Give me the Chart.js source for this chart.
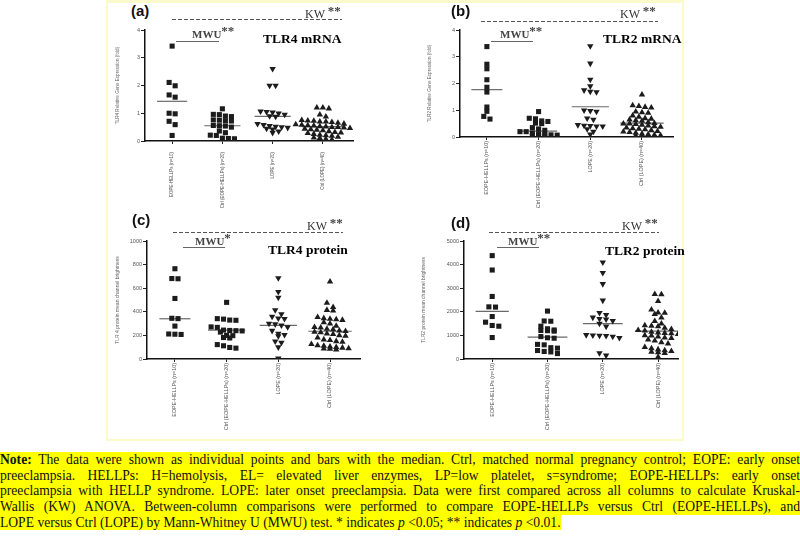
<!DOCTYPE html>
<html>
<head>
<meta charset="utf-8">
<script src="https://cdn.jsdelivr.net/npm/chart.js@4"></script>
<style>
  body { margin: 0; width: 800px; height: 537px; background: #fff; position: relative; overflow: hidden; }
  canvas { position: absolute; }
  .frame { position: absolute; left: 106px; top: 0; width: 574px; height: 436px; border: 2px solid #fafacb; border-top-width: 3px; }
  .lbl { position: absolute; font-family: "Liberation Sans", Arial, sans-serif; font-weight: bold; font-size: 15px; line-height: 1; color: #111; }
  .kw, .mwu { position: absolute; font-family: "Liberation Serif", serif; line-height: 1; color: #333; white-space: nowrap; }
  .kw { font-size: 12px; }
  .mwu { font-size: 11px; font-weight: bold; color: #444; }
  .kw span, .mwu span { font-size: 13px; position: relative; top: -3px; color: #444; font-weight: bold; }
  .ttl { position: absolute; font-family: "Liberation Serif", serif; font-weight: bold; font-size: 13.5px; line-height: 1; color: #000; white-space: nowrap; }
  .dash { position: absolute; height: 1px; background: repeating-linear-gradient(90deg, #555 0 4px, transparent 4px 6px); }
  .bar { position: absolute; height: 1px; background: #666; }
  .note { position: absolute; left: 0; top: 452px; width: 800px; font-family: "Liberation Serif", serif; font-size: 13.6px; line-height: 15.7px; color: #111; }
  .note div.j { background: #ffff00; text-align: justify; text-align-last: justify; }
  .note span.h { background: #ffff00; }
</style>
</head>
<body>
<div class="frame"></div>

<canvas id="chartA" width="262" height="200" style="left:100px;top:20px"></canvas>
<canvas id="chartB" width="265" height="200" style="left:415px;top:20px"></canvas>
<canvas id="chartC" width="265" height="200" style="left:100px;top:231px"></canvas>
<canvas id="chartD" width="270" height="200" style="left:415px;top:231px"></canvas>

<!-- panel annotations -->
<div class="lbl" style="left:131px;top:3px">(a)</div>
<div class="kw" style="left:305px;top:7px">KW <span>**</span></div>
<div class="dash" style="left:172px;top:19px;width:170px"></div>
<div class="mwu" style="left:192px;top:27px">MWU<span>**</span></div>
<div class="bar" style="left:176px;top:41px;width:43px"></div>
<div class="ttl" style="left:263px;top:32px">TLR4 mRNA</div>

<div class="lbl" style="left:451px;top:3px">(b)</div>
<div class="kw" style="left:620px;top:7px">KW <span>**</span></div>
<div class="dash" style="left:481px;top:21px;width:177px"></div>
<div class="mwu" style="left:500px;top:27px">MWU<span>**</span></div>
<div class="bar" style="left:491px;top:41px;width:42px"></div>
<div class="ttl" style="left:603px;top:32px">TLR2 mRNA</div>

<div class="lbl" style="left:132px;top:212px">(c)</div>
<div class="kw" style="left:307px;top:219px">KW <span>**</span></div>
<div class="dash" style="left:173px;top:232px;width:170px"></div>
<div class="mwu" style="left:195px;top:234px">MWU<span>*</span></div>
<div class="bar" style="left:183px;top:247px;width:42px"></div>
<div class="ttl" style="left:268px;top:243px">TLR4 protein</div>

<div class="lbl" style="left:451px;top:215px">(d)</div>
<div class="kw" style="left:622px;top:219px">KW <span>**</span></div>
<div class="dash" style="left:489px;top:232px;width:170px"></div>
<div class="mwu" style="left:508px;top:234px">MWU<span>**</span></div>
<div class="bar" style="left:497px;top:247px;width:42px"></div>
<div class="ttl" style="left:605px;top:244px">TLR2 protein</div>

<div class="note">
  <div class="j"><b>Note:</b> The data were shown as individual points and bars with the median. Ctrl, matched normal pregnancy control; EOPE: early onset</div>
  <div class="j">preeclampsia. HELLPs: H=hemolysis, EL= elevated liver enzymes, LP=low platelet, s=syndrome; EOPE-HELLPs: early onset</div>
  <div class="j">preeclampsia with HELLP syndrome. LOPE: later onset preeclampsia. Data were first compared across all columns to calculate Kruskal-</div>
  <div class="j">Wallis (KW) ANOVA. Between-column comparisons were performed to compare EOPE-HELLPs versus Ctrl (EOPE-HELLPs), and</div>
  <div><span class="h">LOPE versus Ctrl (LOPE) by Mann-Whitney U (MWU) test. * indicates <i>p</i> &lt;0.05; ** indicates <i>p</i> &lt;0.01.</span></div>
</div>

<script>
// Column labels
const categories = ['EOPE-HELLPs (n=10)', 'Ctrl (EOPE-HELLPs) (n=20)', 'LOPE (n=20)', 'Ctrl (LOPE) (n=40)'];

// (a) TLR4 mRNA, fold
const tlr4mEope = [3.42, 2.11, 1.99, 1.66, 1.58, 1.0, 0.98, 0.71, 0.59, 0.2];
const tlr4mCtrlEope = [1.16, 0.96, 0.95, 0.9, 0.88, 0.76, 0.75, 0.73, 0.72, 0.56, 0.55, 0.54, 0.5, 0.36, 0.3, 0.21, 0.2, 0.1, 0.09, 0.08];
const tlr4mLope = [2.6, 2.0, 2.0, 1.07, 1.05, 1.03, 1.0, 0.95, 0.9, 0.88, 0.62, 0.58, 0.55, 0.52, 0.5, 0.48, 0.45, 0.42, 0.35, 0.3];
const tlr4mCtrlLope = [1.2, 1.2, 1.17, 0.95, 0.88, 0.75, 0.73, 0.72, 0.7, 0.7, 0.68, 0.65, 0.62, 0.6, 0.58, 0.56, 0.55, 0.53, 0.52, 0.5,
                       0.5, 0.48, 0.46, 0.44, 0.42, 0.4, 0.38, 0.35, 0.32, 0.3, 0.28, 0.25, 0.22, 0.2, 0.18, 0.15, 0.12, 0.1, 0.07, 0.05];
const tlr4mMedians = [1.43, 0.55, 0.89, 0.52];

// (b) TLR2 mRNA, fold
const tlr2mEope = [3.38, 2.72, 2.55, 2.14, 1.86, 1.68, 1.12, 0.96, 0.77, 0.67];
const tlr2mCtrlEope = [0.95, 0.7, 0.68, 0.6, 0.58, 0.52, 0.5, 0.35, 0.3, 0.25, 0.2, 0.2, 0.15, 0.12, 0.1, 0.08, 0.07, 0.05, 0.05, 0.04];
const tlr2mLope = [3.4, 2.75, 2.15, 1.9, 1.75, 1.7, 1.68, 1.0, 0.98, 0.95, 0.7, 0.65, 0.45, 0.43, 0.42, 0.4, 0.4, 0.3, 0.2, 0.1];
const tlr2mCtrlLope = [1.58, 1.18, 1.15, 1.12, 1.1, 0.95, 0.92, 0.9, 0.8, 0.75, 0.7, 0.68, 0.65, 0.62, 0.6, 0.55, 0.52, 0.5, 0.5, 0.48,
                       0.45, 0.42, 0.4, 0.38, 0.35, 0.32, 0.3, 0.28, 0.25, 0.22, 0.2, 0.18, 0.15, 0.12, 0.1, 0.08, 0.06, 0.05, 0.03, 0.02];
const tlr2mMedians = [1.77, 0.22, 1.13, 0.52];

// (c) TLR4 protein, mean channel brightness
const tlr4pEope = [765, 682, 680, 513, 345, 342, 279, 212, 210, 208];
const tlr4pCtrlEope = [480, 342, 338, 330, 328, 272, 268, 245, 242, 240, 238, 228, 200, 198, 182, 178, 122, 112, 98, 92];
const tlr4pLope = [685, 570, 520, 415, 380, 360, 345, 340, 300, 295, 285, 270, 240, 215, 205, 195, 150, 140, 100, 5];
const tlr4pCtrlLope = [655, 475, 440, 415, 410, 355, 345, 340, 335, 330, 310, 300, 280, 270, 265, 255, 250, 240, 235, 230,
                       225, 215, 210, 200, 195, 180, 165, 160, 150, 145, 125, 115, 110, 105, 100, 95, 90, 88, 85, 80];
const tlr4pMedians = [341, 245, 285, 235];

// (d) TLR2 protein, mean channel brightness
const tlr2pEope = [4380, 3770, 2650, 2210, 2200, 1800, 1560, 1420, 1390, 910];
const tlr2pCtrlEope = [2030, 1610, 1600, 1390, 1280, 1230, 1210, 1200, 1180, 950, 900, 880, 620, 600, 480, 460, 360, 320, 300, 230];
const tlr2pLope = [4100, 3650, 3180, 2480, 1960, 1870, 1760, 1700, 1680, 1620, 1500, 1380, 1020, 1000, 990, 980, 950, 900, 250, 150];
const tlr2pCtrlLope = [2750, 2740, 2450, 2090, 1960, 1950, 1900, 1750, 1600, 1500, 1420, 1400, 1380, 1320, 1260, 1220, 1200, 1150, 1120, 1100,
                       1080, 1050, 1000, 990, 950, 900, 880, 820, 780, 700, 650, 500, 450, 400, 360, 330, 300, 280, 250, 90];
const tlr2pMedians = [2020, 930, 1500, 1180];

const markers = ['rect', 'rect', 'triangle', 'triangle'];
const markerRot = [0, 0, 180, 0];
const medianHalf = [0.3, 0.36, 0.36, 0.42];

// spread points with similar values sideways (column scatter like Prism)
function spread(values, center, tol, step) {
    const sorted = [...values].sort((a, b) => b - a);
    const pts = [];
    let row = [];
    const flush = () => {
        row.forEach((v, i) => pts.push({ x: center + (i - (row.length - 1) / 2) * step, y: v }));
        row = [];
    };
    sorted.forEach(v => {
        if (row.length && row[0] - v > tol) flush();
        row.push(v);
    });
    flush();
    return pts;
}

function makePanel(id, cols, medians, yMax, yStep, yTitle, g) {
    const datasets = [];
    cols.forEach((vals, i) => {
        datasets.push({
            type: 'scatter',
            data: spread(vals, i + 1, yMax * 0.035, 0.12),
            pointStyle: markers[i],
            rotation: markerRot[i],
            pointRadius: markers[i] === 'rect' ? 3.6 : 3.7,
            backgroundColor: '#1c1c1c',
            borderColor: '#1c1c1c',
            borderWidth: 0
        });
    });
    medians.forEach((m, i) => {
        datasets.push({
            type: 'line',
            data: [{ x: i + 1 - medianHalf[i], y: m }, { x: i + 1 + medianHalf[i], y: m }],
            borderColor: '#6a6a6a',
            borderWidth: 1.2,
            pointRadius: 0
        });
    });

    const ctx = document.getElementById(id).getContext('2d');
    new Chart(ctx, {
        type: 'scatter',
        data: { datasets },
        options: {
            responsive: false,
            animation: false,
            layout: { padding: { left: 0, right: g.padR, top: 10, bottom: 0 } },
            plugins: { legend: { display: false }, tooltip: { enabled: false } },
            scales: {
                x: {
                    type: 'linear',
                    min: g.xMin,
                    max: g.xMax,
                    afterBuildTicks: s => { s.ticks = [1, 2, 3, 4].map(v => ({ value: v })); },
                    afterFit: s => { s.height = g.xH; },
                    grid: { drawOnChartArea: false, tickLength: 3, color: '#222', lineWidth: 1 },
                    border: { color: '#111', width: 1.5 },
                    ticks: {
                        autoSkip: false,
                        minRotation: 90,
                        maxRotation: 90,
                        padding: g.xPad,
                        color: '#555',
                        font: { family: '"Liberation Sans", Arial, sans-serif', size: g.xFont },
                        callback: v => categories[v - 1]
                    }
                },
                y: {
                    min: 0,
                    max: yMax,
                    afterFit: s => { s.width = g.yW; },
                    grid: { drawOnChartArea: false, tickLength: 4, color: '#222', lineWidth: 1 },
                    border: { color: '#111', width: 1.5 },
                    ticks: {
                        stepSize: yStep,
                        padding: 1,
                        color: '#555',
                        font: { family: '"Liberation Sans", Arial, sans-serif', size: 5.5 },
                        callback: v => String(v)
                    },
                    title: {
                        display: true,
                        text: yTitle,
                        color: '#666',
                        padding: { top: g.tPad, bottom: 0 },
                        font: { family: '"Liberation Sans", Arial, sans-serif', size: g.tFont }
                    }
                }
            }
        }
    });
}

makePanel('chartA', [tlr4mEope, tlr4mCtrlEope, tlr4mLope, tlr4mCtrlLope], tlr4mMedians, 4, 1,
    'TLR4 Relative Gene Expression (fold)',
    { padR: 9, xH: 79, yW: 45, xMin: 0.46, xMax: 4.6, xPad: 8, xFont: 4.5, tPad: 15, tFont: 4.6 });

makePanel('chartB', [tlr2mEope, tlr2mCtrlEope, tlr2mLope, tlr2mCtrlLope], tlr2mMedians, 4, 1,
    'TLR2 Relative Gene Expression (fold)',
    { padR: 7, xH: 83, yW: 45, xMin: 0.48, xMax: 4.6, xPad: 1, xFont: 5.4, tPad: 12, tFont: 4.6 });

makePanel('chartC', [tlr4pEope, tlr4pCtrlEope, tlr4pLope, tlr4pCtrlLope], tlr4pMedians, 1000, 200,
    'TLR 4 protein mean channel brightness',
    { padR: 5, xH: 72, yW: 47, xMin: 0.46, xMax: 4.58, xPad: 1, xFont: 5.4, tPad: 15, tFont: 5 });

makePanel('chartD', [tlr2pEope, tlr2pCtrlEope, tlr2pLope, tlr2pCtrlLope], tlr2pMedians, 5000, 1000,
    'TLR2 protein mean channel brightness',
    { padR: 7, xH: 72, yW: 49, xMin: 0.49, xMax: 4.36, xPad: 1, xFont: 5.4, tPad: 6, tFont: 5 });
</script>
</body>
</html>
